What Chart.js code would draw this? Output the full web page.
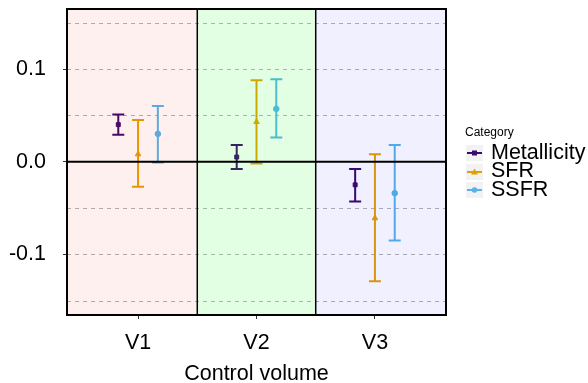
<!DOCTYPE html>
<html>
<head>
<meta charset="utf-8">
<script src="https://cdn.jsdelivr.net/npm/chart.js@4.4.0/dist/chart.umd.min.js"></script>
<style>
  body { margin: 0; background: #fff; }
  #wrap { position: relative; width: 588px; height: 383px; font-family: "Liberation Sans", Arial, sans-serif; }
  #legend { position: absolute; left: 465px; top: 124.5px; color: #000; }
  #legend .ttl { font-size: 12px; line-height: 14px; margin-bottom: 4px; }
  #legend .item { display: flex; align-items: center; height: 18.7px; line-height: 18.7px; font-size: 21.5px; }
  #legend svg { margin: 2px 8px 0 1px; }
</style>
</head>
<body>
<div id="wrap">
  <canvas id="grafica" width="588" height="383"></canvas>
  <div id="legend"></div>
</div>
<script>
const categories = ['V1', 'V2', 'V3'];
const seriesNames = ['Metallicity', 'SFR', 'SSFR'];
const seriesColors = ['#3f0a6d', '#e69f00', '#56b4e9'];
const seriesMarkers = ['rect', 'triangle', 'circle'];

const metallicity = [0.040, 0.005, -0.025];
const metallicityLow = [0.029, -0.008, -0.043];
const metallicityHigh = [0.051, 0.018, -0.008];
const sfr = [0.008, 0.043, -0.061];
const sfrLow = [-0.027, -0.002, -0.129];
const sfrHigh = [0.045, 0.088, 0.008];
const ssfr = [0.030, 0.057, -0.034];
const ssfrLow = [-0.001, 0.026, -0.085];
const ssfrHigh = [0.060, 0.089, 0.018];

const dodge = [-0.167, 0, 0.167];
const yTicks = [-0.1, 0, 0.1];
const gridValues = [-0.15, -0.1, -0.05, 0.05, 0.1, 0.15];
const panelColors = ['rgba(255,0,0,0.06)', 'rgba(0,255,0,0.11)', 'rgba(0,0,255,0.06)'];

const valores = [metallicity, sfr, ssfr];
const bajos = [metallicityLow, sfrLow, ssfrLow];
const altos = [metallicityHigh, sfrHigh, ssfrHigh];

function crearDatasets() {
    return seriesNames.map((name, s) => ({
        label: name,
        data: categories.map((c, i) => ({x: i + 1 + dodge[s], y: valores[s][i], lo: bajos[s][i], hi: altos[s][i]})),
        backgroundColor: seriesColors[s],
        borderColor: seriesColors[s],
        pointStyle: seriesMarkers[s],
        pointRadius: s == 1 ? 3.2 : 2.8,
        showLine: false
    }));
}

// dashed grid lines
const gridPlugin = {
    id: 'grid',
    beforeDatasetsDraw(chart) {
        const {ctx, chartArea: a, scales: {y}} = chart;
        ctx.save();
        ctx.strokeStyle = '#b3b3b3';
        ctx.lineWidth = 1;
        ctx.setLineDash([4, 4]);
        gridValues.forEach(v => {
            const py = Math.round(y.getPixelForValue(v)) + 0.5;
            ctx.beginPath();
            ctx.moveTo(a.left, py);
            ctx.lineTo(a.right, py);
            ctx.stroke();
        });
        ctx.restore();
    }
};

// error bars under the points
const errorPlugin = {
    id: 'errores',
    beforeDatasetsDraw(chart) {
        const {ctx, scales: {x, y}} = chart;
        ctx.save();
        ctx.lineWidth = 2;
        chart.data.datasets.forEach(ds => {
            ctx.strokeStyle = ds.borderColor;
            ds.data.forEach(p => {
                const px = x.getPixelForValue(p.x);
                const top = y.getPixelForValue(p.hi);
                const bot = y.getPixelForValue(p.lo);
                ctx.beginPath();
                ctx.moveTo(px, top);
                ctx.lineTo(px, bot);
                ctx.moveTo(px - 6, top);
                ctx.lineTo(px + 6, top);
                ctx.moveTo(px - 6, bot);
                ctx.lineTo(px + 6, bot);
                ctx.stroke();
            });
        });
        ctx.restore();
    }
};

// tinted panels, zero line, separators and frame
const panelPlugin = {
    id: 'paneles',
    afterDatasetsDraw(chart) {
        const {ctx, chartArea: a, scales: {x, y}} = chart;
        ctx.save();
        categories.forEach((c, i) => {
            const l = i == 0 ? a.left : x.getPixelForValue(i + 0.5);
            const r = i == categories.length - 1 ? a.right : x.getPixelForValue(i + 1.5);
            ctx.fillStyle = panelColors[i];
            ctx.fillRect(l, a.top, r - l, a.bottom - a.top);
        });
        ctx.strokeStyle = '#000';
        ctx.lineWidth = 2;
        const y0 = y.getPixelForValue(0);
        ctx.beginPath();
        ctx.moveTo(a.left, y0);
        ctx.lineTo(a.right, y0);
        ctx.stroke();
        ctx.lineWidth = 1.5;
        for (let i = 1; i < categories.length; i++) {
            const px = x.getPixelForValue(i + 0.5);
            ctx.beginPath();
            ctx.moveTo(px, a.top);
            ctx.lineTo(px, a.bottom);
            ctx.stroke();
        }
        ctx.lineWidth = 2;
        ctx.strokeRect(a.left, a.top, a.right - a.left, a.bottom - a.top);
        ctx.restore();
    }
};

function crearLeyenda() {
    const cont = document.getElementById('legend');
    let html = '<div class="ttl">Category</div>';
    seriesNames.forEach((name, s) => {
        const c = seriesColors[s];
        let mark;
        if (seriesMarkers[s] == 'rect') mark = '<rect x="6" y="5.5" width="5" height="5" fill="' + c + '"/>';
        else if (seriesMarkers[s] == 'triangle') mark = '<polygon points="8.5,4.5 12,10.5 5,10.5" fill="' + c + '"/>';
        else mark = '<circle cx="8.5" cy="8" r="2.8" fill="' + c + '"/>';
        html += '<div class="item"><svg width="17" height="16"><rect width="17" height="16" fill="#f2f2f2"/>' +
            '<line x1="1" y1="8" x2="16" y2="8" stroke="' + c + '" stroke-width="2"/>' + mark + '</svg>' + name + '</div>';
    });
    cont.innerHTML = html;
}

const fuente = {family: '"Liberation Sans", Arial, sans-serif', size: 21.5};

const config = {
    type: 'scatter',
    data: {datasets: crearDatasets()},
    plugins: [gridPlugin, errorPlugin, panelPlugin],
    options: {
        responsive: false,
        animation: false,
        layout: {padding: {left: 0, right: 142, top: 9, bottom: 0}},
        plugins: {legend: {display: false}, tooltip: {enabled: false}},
        scales: {
            x: {
                type: 'linear',
                min: 0.4,
                max: 3.6,
                afterBuildTicks: s => { s.ticks = categories.map((c, i) => ({value: i + 1})); },
                afterFit: s => { s.height = 68; s.paddingLeft = 0; s.paddingRight = 0; },
                grid: {drawOnChartArea: false, color: '#333', tickLength: 4},
                border: {display: false},
                ticks: {color: '#000', font: fuente, padding: 11, callback: v => categories[v - 1]},
                title: {display: true, text: 'Control volume', color: '#000', font: fuente, padding: {top: 0, bottom: -4}}
            },
            y: {
                min: -0.1655,
                max: 0.1648,
                afterBuildTicks: s => { s.ticks = yTicks.map(v => ({value: v})); },
                afterFit: s => { s.width = 67; s.paddingTop = 0; s.paddingBottom = 0; },
                grid: {drawOnChartArea: false, color: '#333', tickLength: 4},
                border: {display: false},
                ticks: {color: '#000', font: fuente, padding: 17, callback: v => v.toFixed(1)}
            }
        }
    }
};

crearLeyenda();
const grafica = new Chart(document.getElementById('grafica'), config);
</script>
</body>
</html>
